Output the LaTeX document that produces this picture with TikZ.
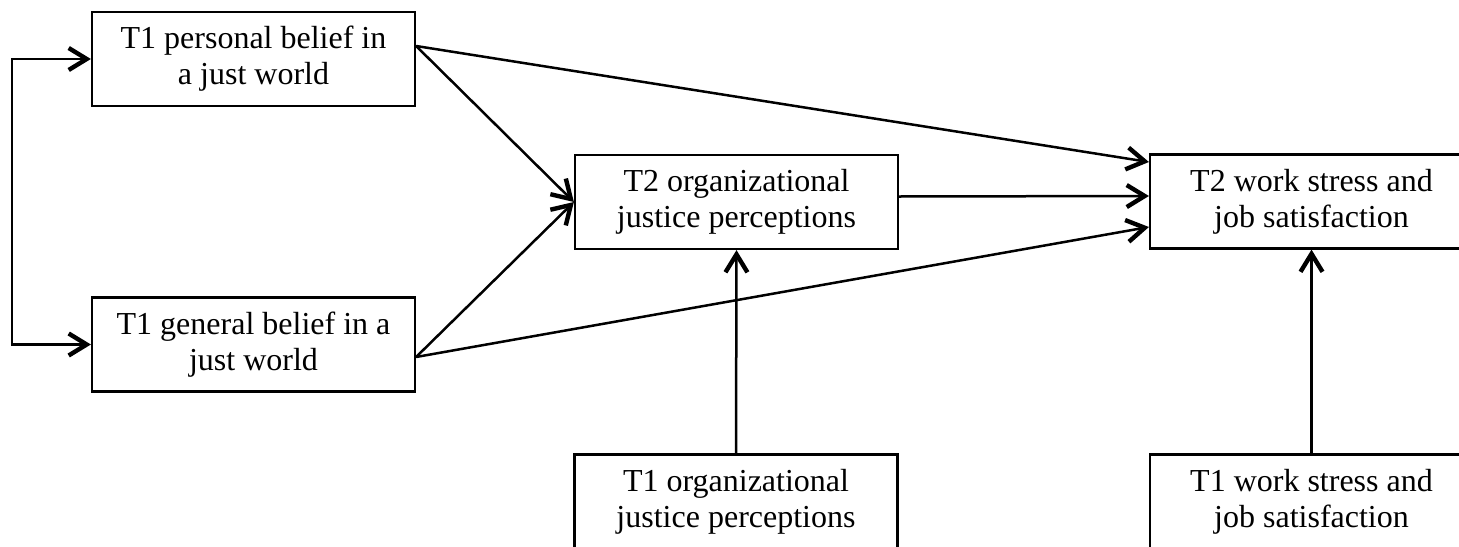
\documentclass[tikz,border=0pt]{standalone}
\usepackage{fontspec}
\setmainfont{Liberation Serif}
\usetikzlibrary{arrows.meta}

\tikzset{
  varbox/.style={draw, line width=1.1pt, rectangle, inner sep=0pt,
    minimum width=161.5pt, minimum height=47pt, align=center,
    font=\fontsize{16}{18}\selectfont},
  barb/.tip={Straight Barb[length=9pt, width=11pt, line width=2.2pt]},
  path/.style={line width=1.25pt, -barb},
  twoway/.style={line width=1.25pt, barb-barb},
}

\begin{document}
\begin{tikzpicture}[x=0.5pt, y=-0.5pt]
  \clip (0,0) rectangle (1459,546);

  % variables
  \node[varbox] (pbjw) at (253.5, 59)   {T1 personal belief in\\a just world};
  \node[varbox] (gbjw) at (253.5, 344.5) {T1 general belief in a\\just world};
  \node[varbox] (ojp2) at (736.5, 202)  {T2 organizational\\justice perceptions};
  \node[varbox] (wss2) at (1311.5, 201.5) {T2 work stress and\\job satisfaction};
  \node[varbox] (ojp1) at (736, 501.5)    {T1 organizational\\justice perceptions};
  \node[varbox] (wss1) at (1311.5, 501.5) {T1 work stress and\\job satisfaction};

  % correlation between the two belief measures
  \coordinate (rail) at (12, 0);
  \draw[twoway] (pbjw.west) -- (pbjw.west -| rail) -- (gbjw.west -| rail) -- (gbjw.west);

  % paths from personal belief
  \draw[path] ([yshift=6.5pt]pbjw.east) -- ([yshift=19.75pt]wss2.west);
  \draw[path] ([yshift=6.5pt]pbjw.east) -- (ojp2.west);

  % paths from general belief
  \draw[path] ([yshift=-6.25pt]gbjw.east) -- (ojp2.west);
  \draw[path] ([yshift=-6.25pt]gbjw.east) -- ([yshift=-12.75pt]wss2.west);

  % mediator to outcome
  \draw[path] ([yshift=2.75pt]ojp2.east) -- ([yshift=2.75pt]wss2.west);

  % autoregressive paths
  \draw[path] (ojp1.north) -- (ojp2.south);
  \draw[path] (wss1.north) -- (wss2.south);
\end{tikzpicture}
\end{document}
